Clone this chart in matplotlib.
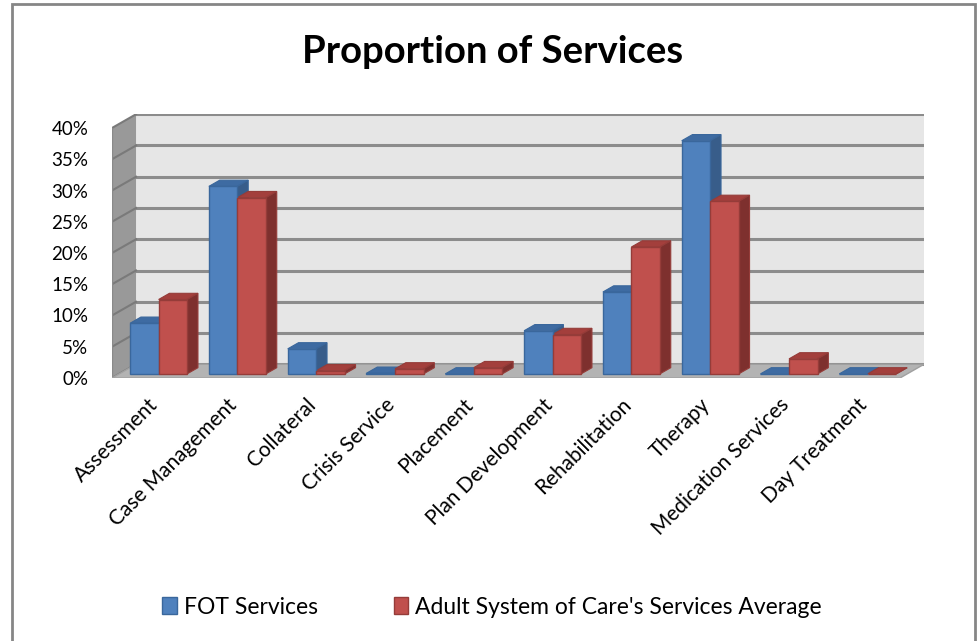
import matplotlib
matplotlib.use("Agg")
import matplotlib.pyplot as plt
from matplotlib.patches import Polygon, Patch, Rectangle

categories = ["Assessment", "Case Management", "Collateral", "Crisis Service",
              "Placement", "Plan Development", "Rehabilitation", "Therapy",
              "Medication Services", "Day Treatment"]
fot_services = [8.1, 30.0, 4.0, 0.1, 0.0, 6.9, 13.1, 37.3, 0.0, 0.0]
adult_soc_avg = [11.9, 28.2, 0.5, 0.8, 1.0, 6.3, 20.3, 27.6, 2.4, 0.0]
series_names = ["FOT Services", "Adult System of Care's Services Average"]
yticks = [0, 5, 10, 15, 20, 25, 30, 35, 40]

FRONT = ["#4F81BD", "#C0504D"]
SIDE = ["#385D8A", "#7E302E"]
TOP = ["#3E6BA2", "#A33F3C"]
EDGE = ["#3A679C", "#953C39"]

plt.rcParams["font.family"] = ["Lato", "DejaVu Sans"]

W, H = 977, 641
fig = plt.figure(figsize=(W / 100, H / 100), dpi=100)

# 3d look: depth offset of the plot box in data units
DX, DY = 0.305, 2.2
px_x = 78.8   # pixels per category
px_y = 6.25   # pixels per percent
left, bottom = 112, 378
ax_w = (10 + DX) * px_x
ax_h = (40 + DY) * px_y
ax = fig.add_axes([left / W, (H - bottom) / H, ax_w / W, ax_h / H])
ax.set_xlim(0, 10 + DX)
ax.set_ylim(0, 40 + DY)
for s in ax.spines.values():
    s.set_visible(False)
ax.patch.set_visible(False)

# back wall, left wall, floor
ax.add_patch(Rectangle((DX, DY), 10, 40, facecolor="#E6E6E6", edgecolor="none", zorder=0))
ax.add_patch(Polygon([(0, 0), (0, 40), (DX, 40 + DY), (DX, DY)],
                     facecolor="#999999", edgecolor="none", zorder=0))
for v in yticks:
    ax.plot([DX, 10 + DX], [v + DY, v + DY], color="#8C8C8C", lw=2.2, zorder=0.5)
    ax.plot([0, DX], [v, v + DY], color="#7A7A7A", lw=1.5, zorder=0.5)
ax.plot([0, 0], [0, 40], color="#8A8A8A", lw=1.0, zorder=0.6)
ax.add_patch(Polygon([(0, 0), (10, 0), (10 + DX, DY), (DX, DY)],
                     facecolor="#B3B3B3", edgecolor="#A0A0A0", lw=1, zorder=1))
ax.plot([0, 10], [-0.15, -0.15], color="#C8C8C8", lw=1.5, zorder=1)

# bars: front faces via ax.bar, sides/tops from the same values
bw = 0.362
f, d = 0.30, 0.45
base = f * DY
for s, vals in enumerate([fot_services, adult_soc_avg]):
    xs = [i + 0.5 + f * DX - bw + s * bw for i in range(len(vals))]
    ax.bar(xs, vals, width=bw, bottom=base, align="edge", color=FRONT[s],
           edgecolor=EDGE[s], linewidth=1, zorder=3)
    for x0, v in zip(xs, vals):
        top = base + v
        ax.add_patch(Polygon([(x0, top), (x0 + bw, top), (x0 + bw + d * DX, top + d * DY),
                              (x0 + d * DX, top + d * DY)],
                             facecolor=TOP[s], edgecolor=EDGE[s], lw=0.8, zorder=2))
        ax.add_patch(Polygon([(x0 + bw, base), (x0 + bw + d * DX, base + d * DY),
                              (x0 + bw + d * DX, top + d * DY), (x0 + bw, top)],
                             facecolor=SIDE[s], edgecolor=EDGE[s], lw=0.8, zorder=2))

ax.set_yticks(yticks)
ax.set_yticklabels([f"{v}%" for v in yticks], fontsize=13.5)
ax.set_xticks([i + 0.46 for i in range(len(categories))])
ax.set_xticklabels(categories, rotation=45, ha="right", va="top",
                   rotation_mode="anchor", fontsize=15)
ax.tick_params(axis="y", length=0, pad=17)
ax.tick_params(axis="x", length=0, pad=12)

fig.text(493 / W, 1 - 52 / H, "Proportion of Services", ha="center", va="center",
         fontsize=27.5, fontweight="bold")

handles = [Patch(facecolor=FRONT[i], edgecolor=EDGE[i], label=series_names[i]) for i in range(2)]
fig.legend(handles=handles, loc="center", bbox_to_anchor=(492 / W, 1 - 607 / H), ncol=2,
           frameon=False, fontsize=16.5, handlelength=0.65, handleheight=0.75,
           handletextpad=0.3, columnspacing=3.3)

# chart border
fig.add_artist(Rectangle((12 / W, -0.01), (975 - 12) / W, 1.01 - 4 / H, transform=fig.transFigure,
                         fill=False, edgecolor="#868686", lw=2))

fig.savefig("out.png", dpi=100)
